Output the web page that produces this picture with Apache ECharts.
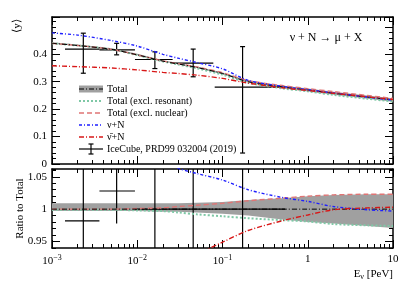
<!DOCTYPE html>
<html><head><meta charset="utf-8">
<script src="https://cdn.jsdelivr.net/npm/echarts@6/dist/echarts.min.js"></script>
<style>html,body{margin:0;padding:0;background:#fff}#c{width:415px;height:283px}</style>
</head><body><div id="c"></div>
<script>
// ---- data ----
const energies = [0.001,0.002,0.005,0.01,0.02,0.03,0.05,0.1,0.2,0.5,1,2,5,10];
// top panel <y>
const totalY   = [0.44,0.432,0.418,0.398,0.375,0.365,0.352,0.33,0.30,0.281,0.27,0.258,0.244,0.234];
const noResY   = [0.44,0.432,0.418,0.397,0.374,0.363,0.349,0.326,0.296,0.276,0.265,0.252,0.238,0.228];
const noNucY   = [0.44,0.432,0.418,0.398,0.376,0.366,0.354,0.333,0.304,0.286,0.275,0.264,0.250,0.239];
const nuY      = [0.478,0.47,0.45,0.43,0.40,0.386,0.37,0.347,0.305,0.283,0.271,0.259,0.244,0.233];
const nubarY   = [0.358,0.355,0.35,0.343,0.334,0.33,0.324,0.312,0.295,0.278,0.268,0.258,0.245,0.235];
// bottom panel ratios to total
const bandLo   = [0.997,0.997,0.997,0.997,0.996,0.996,0.995,0.993,0.990,0.984,0.980,0.978,0.974,0.971];
const bandHi   = [1.009,1.009,1.009,1.009,1.009,1.009,1.010,1.011,1.014,1.017,1.020,1.022,1.023,1.023];
const totalR   = [1,1,1,1,1,1,1,1,1,1,1,1,1,1];
const noResR   = [0.999,0.999,0.999,0.998,0.997,0.995,0.992,0.989,0.986,0.983,0.981,0.977,0.975,0.974];
const noNucR   = [1.0,1.0,1.0,1.001,1.002,1.004,1.006,1.009,1.013,1.017,1.020,1.022,1.023,1.023];
const nuR      = [1.09,1.09,1.09,1.085,1.072,1.063,1.055,1.045,1.030,1.018,1.012,1.004,0.999,0.997];
const nubarR   = [0.815,0.83,0.85,0.87,0.90,0.915,0.93,0.949,0.967,0.982,0.991,0.999,1.002,1.003];
// IceCube points
const icX    = [0.00233,0.00573,0.0161,0.0453,0.172];
const icXlo  = [0.00142,0.0036,0.0094,0.026,0.081];
const icXhi  = [0.0036,0.0094,0.026,0.078,0.54];
const icY    = [0.419,0.416,0.381,0.368,0.28];
const icYlo  = [0.331,0.398,0.348,0.318,0.04];
const icYhi  = [0.477,0.44,0.409,0.419,0.428];
const icR    = [0.982,1.028,1.0,1.0,1.0];
const icRlo  = [0.90,0.978,0.90,0.90,0.90];
const icRhi  = [1.10,1.10,1.10,1.10,1.10];
// tick labels
const yTopTicks = [0,0.1,0.2,0.3,0.4,0.5];
const yBotTicks = [0.95,1,1.05];
const legendNames = ['Total','Total (excl. resonant)','Total (excl. nuclear)','ν+N','ν̄+N','IceCube, PRD99 032004 (2019)'];

const F = '"Liberation Serif","Times New Roman",serif';
const GREY = '#a0a0a0';
const styles = {
  total: {color:'#000', width:1, type:[5,2,1,2]},
  noRes: {color:'#7fc8a6', width:2, type:[2,2]},
  noNuc: {color:'#e07474', width:1.4, type:[5,3]},
  nu:    {color:'#1f1fff', width:1.4, type:[3,2,1,2]},
  nubar: {color:'#d81818', width:1.4, type:[5,2,1,2]}
};

const minorLog = [];
for (let p=-3;p<1;p++) for (let k=2;k<=9;k++) minorLog.push(p+Math.log10(k));

const axLine = {show:true,onZero:false,lineStyle:{color:'#000',width:1.5}};
function xAxes(g, labels){
  const base = (pos)=>({type:'log',logBase:10,gridIndex:g,position:pos,min:0.001,max:10,
    axisLine:axLine,axisTick:{inside:true,length:8,lineStyle:{color:'#000',width:1}},
    splitLine:{show:false},
    axisLabel:{show:labels && pos==='bottom',margin:6,color:'#000',fontFamily:F,fontSize:11,
      formatter:(v)=>{const p=Math.round(Math.log10(v)); if(p===0) return '1'; if(p===1) return '10'; return '{b|10}{s|−'+(-p)+'}';},
      rich:{b:{fontFamily:F,fontSize:11,color:'#000'},s:{fontFamily:F,fontSize:8,color:'#000',padding:[0,0,7,0]}}}});
  const minor = (pos)=>({type:'value',gridIndex:g,position:pos,min:-3,max:1,
    axisLine:{show:false,onZero:false},axisTick:{inside:true,length:4,customValues:minorLog,lineStyle:{color:'#000',width:1}},
    axisLabel:{show:false},splitLine:{show:false}});
  return [base('bottom'),minor('bottom'),base('top'),minor('top')];
}
function yAxesTop(){
  const major=(pos)=>({type:'value',gridIndex:0,position:pos,min:0,max:0.536,interval:0.1,
    axisLine:axLine,axisTick:{inside:true,length:8,lineStyle:{color:'#000',width:1}},splitLine:{show:false},
    axisLabel:{show:pos==='left',showMaxLabel:false,margin:5,color:'#000',fontFamily:F,fontSize:11,
      customValues:yTopTicks}});
  const minor=(pos)=>({type:'value',gridIndex:0,position:pos,min:0,max:0.536,interval:0.02,
    axisLine:{show:false,onZero:false},axisTick:{inside:true,length:4,lineStyle:{color:'#000',width:1}},
    axisLabel:{show:false},splitLine:{show:false}});
  return [major('left'),minor('left'),major('right'),minor('right')];
}
function yAxesBot(){
  const major=(pos)=>({type:'value',gridIndex:1,position:pos,min:0.94,max:1.062,
    name: pos==='left'?'Ratio to Total':'',nameLocation:'middle',nameGap:26,nameMoveOverlap:false,
    nameTextStyle:{fontFamily:F,fontSize:11,color:'#000'},
    axisLine:axLine,axisTick:{inside:true,length:8,customValues:yBotTicks,lineStyle:{color:'#000',width:1}},splitLine:{show:false},
    axisLabel:{show:pos==='left',margin:5,color:'#000',fontFamily:F,fontSize:11,customValues:yBotTicks}});
  const minor=(pos)=>({type:'value',gridIndex:1,position:pos,min:0.94,max:1.062,interval:0.01,
    axisLine:{show:false,onZero:false},axisTick:{inside:true,length:4,lineStyle:{color:'#000',width:1}},
    axisLabel:{show:false},splitLine:{show:false}});
  return [major('left'),minor('left'),major('right'),minor('right')];
}

function line(name, xs, ys, st, xi, yi){
  return {type:'line',name,xAxisIndex:xi,yAxisIndex:yi,data:xs.map((e,i)=>[e,ys[i]]),
    symbol:'none',smooth:0.3,silent:true,clip:true,
    lineStyle:{color:st.color,width:st.width,type:st.type}};
}
// uncertainty band: one polygon through the axis scales
function band(xs, lo, hi, xi, yi){
  return {type:'custom',xAxisIndex:xi,yAxisIndex:yi,clip:true,silent:true,
    data:xs.map((e,i)=>[e,lo[i],hi[i]]),
    encode:{x:0,y:[1,2]},
    renderItem:(params,api)=>{
      if(params.dataIndex!==0) return null;
      const up=[], dn=[];
      for(let i=0;i<xs.length;i++){
        up.push(api.coord([xs[i],hi[i]]));
        dn.push(api.coord([xs[i],lo[i]]));
      }
      return {type:'polygon',shape:{points:up.concat(dn.reverse()),smooth:0},style:{fill:GREY}};
    }};
}
function errorbars(x,xlo,xhi,y,ylo,yhi,xi,yi,caps){
  return {type:'custom',xAxisIndex:xi,yAxisIndex:yi,clip:true,silent:true,
    data:x.map((v,i)=>[v,y[i],xlo[i],xhi[i],ylo[i],yhi[i]]),
    encode:{x:[0,2,3],y:[1,4,5]},
    renderItem:(params,api)=>{
      const c=api.coord([api.value(0),api.value(1)]);
      const l=api.coord([api.value(2),api.value(1)]);
      const r=api.coord([api.value(3),api.value(1)]);
      const b=api.coord([api.value(0),api.value(4)]);
      const t=api.coord([api.value(0),api.value(5)]);
      const st={stroke:'#000',lineWidth:1.2};
      const ch=[
        {type:'line',shape:{x1:l[0],y1:c[1],x2:r[0],y2:c[1]},style:st},
        {type:'line',shape:{x1:c[0],y1:b[1],x2:c[0],y2:t[1]},style:st}];
      if(caps){
        ch.push({type:'line',shape:{x1:c[0]-2.5,y1:b[1],x2:c[0]+2.5,y2:b[1]},style:st});
        ch.push({type:'line',shape:{x1:c[0]-2.5,y1:t[1],x2:c[0]+2.5,y2:t[1]},style:st});
      }
      return {type:'group',children:ch};
    }};
}

const topLo = totalY.map((v,i)=>v*bandLo[i]);
const topHi = totalY.map((v,i)=>v*bandHi[i]);

const series = [
  band(energies, topLo, topHi, 0, 0),
  line(legendNames[1], energies, noResY, styles.noRes, 0, 0),
  line(legendNames[2], energies, noNucY, styles.noNuc, 0, 0),
  line(legendNames[0], energies, totalY, styles.total, 0, 0),
  line(legendNames[3], energies, nuY, styles.nu, 0, 0),
  line(legendNames[4], energies, nubarY, styles.nubar, 0, 0),
  errorbars(icX,icXlo,icXhi,icY,icYlo,icYhi,0,0,true),
  band(energies, bandLo, bandHi, 4, 4),
  line(legendNames[1], energies, noResR, styles.noRes, 4, 4),
  line(legendNames[2], energies, noNucR, styles.noNuc, 4, 4),
  line(legendNames[0], energies, totalR, styles.total, 4, 4),
  line(legendNames[3], energies, nuR, styles.nu, 4, 4),
  line(legendNames[4], energies, nubarR, styles.nubar, 4, 4),
  errorbars(icX,icXlo,icXhi,icR,icRlo,icRhi,4,4,false)
];

// legend (drawn as graphic)
const legendStyleKeys = ['total','noRes','noNuc','nu','nubar','ic'];
const legendGraphic = [];
const lgX0 = 79, lgX1 = 103, lgTop = 89, lgStep = 12;
legendStyleKeys.forEach((k,i)=>{
  const y = lgTop + i*lgStep;
  if(k==='total'){
    legendGraphic.push({type:'rect',shape:{x:lgX0,y:y-3.5,width:lgX1-lgX0,height:7},style:{fill:GREY}});
  }
  if(k==='ic'){
    const st={stroke:'#000',lineWidth:1.2};
    const xm=(lgX0+lgX1)/2;
    legendGraphic.push({type:'line',shape:{x1:lgX0,y1:y,x2:lgX1,y2:y},style:st});
    legendGraphic.push({type:'line',shape:{x1:xm,y1:y-5,x2:xm,y2:y+5},style:st});
    legendGraphic.push({type:'line',shape:{x1:xm-2.5,y1:y-5,x2:xm+2.5,y2:y-5},style:st});
    legendGraphic.push({type:'line',shape:{x1:xm-2.5,y1:y+5,x2:xm+2.5,y2:y+5},style:st});
  } else {
    const s=styles[k];
    legendGraphic.push({type:'line',shape:{x1:lgX0,y1:y,x2:lgX1,y2:y},
      style:{stroke:s.color,lineWidth:s.width,lineDash:s.type}});
  }
  legendGraphic.push({type:'text',x:107,y:y,style:{text:legendNames[i],font:'10px '+F,fill:'#000',
    textAlign:'left',textVerticalAlign:'middle'}});
});

const option = {
  animation:false,
  backgroundColor:'#fff',
  grid:[{left:52,right:22,top:17,height:147},{left:52,right:22,top:169,height:79}],
  xAxis:[...xAxes(0,false),...xAxes(1,true)],
  yAxis:[...yAxesTop(),...yAxesBot()],
  series,
  graphic:[
    {type:'text',x:17,y:26,rotation:Math.PI/2,style:{text:'⟨y⟩',font:'11px '+F,fill:'#000',textAlign:'center',textVerticalAlign:'middle'}},
    {type:'text',x:326,y:38,style:{text:'ν + N → μ + X',font:'12px '+F,fill:'#000',textAlign:'center',textVerticalAlign:'middle'}},
    {type:'text',x:393,y:274,style:{text:'{a|E}{s|ν}{a| [PeV]}',textAlign:'right',textVerticalAlign:'middle',
      rich:{a:{fontFamily:F,fontSize:11,fill:'#000'},s:{fontFamily:F,fontSize:8,fill:'#000',padding:[5,0,0,0]}}}},
    ...legendGraphic
  ]
};
const chart = echarts.init(document.getElementById('c'),null,{renderer:'canvas'});
chart.setOption(option);
</script></body></html>
